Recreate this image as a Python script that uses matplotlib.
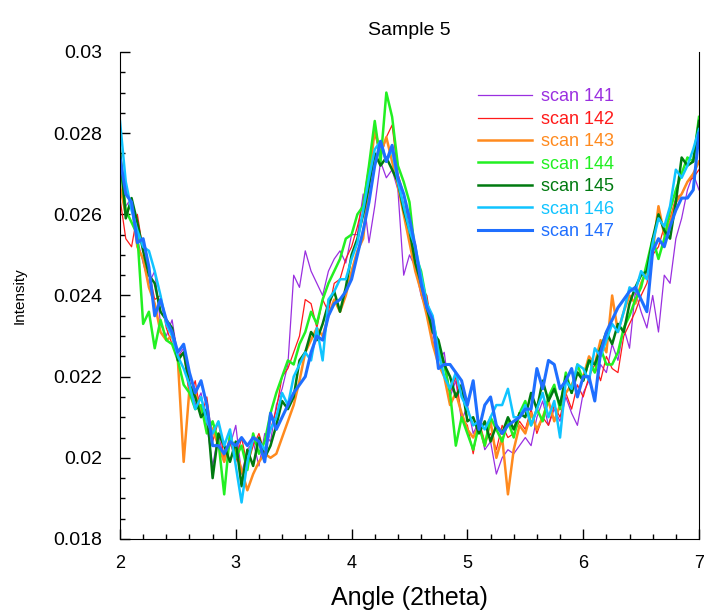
import numpy as np
import matplotlib.pyplot as plt
from matplotlib.ticker import MultipleLocator

plt.rcParams['font.family'] = ['Liberation Sans', 'DejaVu Sans']

# angle grid, 2 -> 7 in 0.05 steps
angle = np.linspace(2.0, 7.0, 101)

# intensities, in units of 1e-3
scale = 1e-3

scan141 = [26.6, 26.2, 26.4, 25.4, 24.8, 24.3, 24.6, 23.3, 23.0, 23.4,
           22.5, 22.7, 21.9, 21.3, 21.6, 20.8, 19.8, 20.6, 19.9, 20.3,
           20.8, 19.6, 20.2, 20.4, 19.8, 20.6, 20.4, 21.3, 21.7, 22.3,
           24.5, 24.2, 25.1, 24.6, 24.3, 24.0, 24.6, 24.9, 25.1, 24.8,
           25.5, 25.5, 26.5, 25.3, 26.2, 27.3, 26.9, 27.1, 26.6, 24.5,
           25.0, 24.7, 24.0, 23.6, 22.9, 22.4, 22.6, 21.5, 21.9, 20.9,
           21.3, 20.6, 20.9, 20.2, 20.4, 19.6, 20.0, 20.2, 20.1, 20.3,
           20.5, 20.3, 21.0, 21.4, 20.8, 21.2, 20.9, 21.5, 21.1, 20.8,
           21.6, 21.9, 21.5, 22.3, 22.1, 22.8, 22.4, 23.2, 22.7, 24.1,
           23.6, 23.2, 24.0, 23.1, 24.5, 24.3, 25.4, 25.9, 26.6, 27.0,
           26.6]
scan142 = [26.4, 25.4, 25.2, 26.0, 25.1, 24.6, 23.9, 24.0, 23.2, 22.8,
           22.5, 22.6, 21.5, 21.9, 21.0, 21.5, 20.4, 20.9, 20.0, 20.4,
           19.9, 20.5, 19.8, 20.3, 20.6, 20.1, 20.7, 21.2, 22.0, 22.2,
           22.6, 23.0, 23.9, 23.8, 23.2, 23.9, 23.6, 24.3, 24.4, 24.9,
           25.2, 25.7, 26.3, 27.2, 28.0, 27.4, 27.9, 28.2, 27.0, 26.5,
           25.6, 25.3, 24.2, 24.0, 23.1, 22.5, 22.3, 21.6, 22.0, 21.0,
           20.8, 20.1, 20.9, 20.4, 20.6, 20.2, 20.8, 20.5, 20.6, 20.9,
           20.7, 21.2, 20.6, 21.0, 20.8, 21.3, 21.0, 21.6, 21.2, 21.8,
           21.5, 22.0, 22.3, 21.9, 22.5, 22.2, 22.1, 23.0, 23.3, 23.6,
           24.0, 24.3, 25.0, 25.2, 25.7, 25.9, 26.4, 26.5, 26.8, 26.9,
           27.1]
scan143 = [26.7, 26.0, 26.3, 25.2, 24.9, 24.2, 23.8, 23.1, 22.9, 23.0,
           22.4, 19.9, 21.7, 21.6, 21.1, 20.9, 20.7, 20.3, 19.9, 20.5,
           20.2, 19.7, 19.2, 19.6, 19.9, 20.1, 20.0, 20.1, 20.5, 20.9,
           21.3, 21.9, 22.6, 22.9, 23.2, 23.0, 23.5, 23.9, 23.6, 24.0,
           24.6, 25.1, 25.4, 26.8, 28.1, 27.5, 27.9, 27.3, 26.7, 26.0,
           25.3, 24.6, 24.1, 23.5, 22.8, 22.3, 22.0, 21.3, 21.6, 21.1,
           20.7, 20.5, 20.8, 20.3, 20.9, 20.0, 20.5, 19.1, 20.2, 20.8,
           20.6, 21.1, 20.7, 21.0, 21.4, 20.9, 21.3, 21.6, 21.8, 22.1,
           22.0, 22.5, 22.3, 22.9, 22.6, 24.0, 23.1, 23.6, 24.0, 23.8,
           24.3, 24.6, 25.1, 26.2, 25.5, 25.8, 26.3, 26.5, 26.8, 27.0,
           27.3]
scan144 = [27.3, 26.1, 25.8, 25.5, 23.3, 23.6, 22.7, 23.4, 22.9, 22.8,
           22.4, 21.8, 21.6, 21.2, 21.3, 20.6, 20.9, 20.4, 19.1, 20.6,
           20.0, 20.3, 19.7, 20.6, 20.1, 20.4, 21.1, 21.6, 22.0, 22.4,
           22.3, 22.8, 23.1, 23.6, 23.3, 23.9, 24.3, 24.6, 24.9, 25.4,
           25.5, 26.0, 26.2, 27.2, 28.3, 27.3, 29.0, 28.4, 27.2, 26.8,
           26.3, 25.0, 24.6, 23.8, 23.4, 22.7, 22.3, 21.6, 20.3, 21.0,
           20.6, 20.2, 20.8, 20.3, 21.0, 20.7, 20.4, 20.9, 20.5, 21.1,
           21.4, 20.8, 21.2, 20.9, 21.5, 21.8, 21.2, 22.1, 21.6, 22.3,
           21.9, 22.4, 22.1, 22.7, 22.3, 22.3, 22.6, 23.2, 23.5, 23.9,
           24.2, 24.8, 25.4, 24.9, 25.4, 26.1, 26.6, 27.0, 27.4, 27.3,
           28.4]
scan145 = [27.6, 25.9, 26.4, 25.8, 25.1, 24.5, 24.3, 23.6, 23.4, 23.2,
           22.4, 22.6, 21.8, 21.5, 21.0, 21.2, 19.5, 20.6, 20.3, 19.9,
           20.4, 19.3, 20.2, 19.8, 20.5, 20.0, 20.3, 20.8, 21.4, 21.2,
           21.5, 22.4, 22.6, 23.1, 22.9, 23.3, 23.8, 24.1, 23.6, 24.2,
           25.0, 25.4, 26.0, 26.7, 27.5, 27.2, 27.4, 27.1, 26.8, 26.1,
           25.6, 24.8, 24.3, 23.7, 23.1, 22.9, 22.3, 22.0, 21.5, 21.8,
           20.9, 21.0, 20.6, 20.9, 20.4, 20.8, 20.6, 21.0, 20.7, 21.1,
           21.0, 21.6, 21.2, 21.9, 21.4, 21.7, 21.3, 22.0, 21.6, 22.1,
           21.9, 22.4, 22.3, 22.7, 23.1, 22.8, 23.3, 23.1, 23.8, 24.2,
           24.5, 24.6, 25.4, 26.0, 25.6, 25.4, 26.3, 27.4, 27.2, 27.3,
           28.3]
scan146 = [28.3, 26.8, 26.1, 25.6, 25.2, 25.1, 24.6, 24.0, 23.3, 23.0,
           22.5, 22.2, 21.8, 21.2, 21.5, 20.9, 20.6, 20.9, 20.3, 20.7,
           19.8, 18.9, 19.9, 20.5, 20.4, 20.2, 20.7, 21.0, 21.6, 21.3,
           22.0, 22.3, 22.6, 22.4, 23.2, 22.4, 23.9, 24.1, 24.4, 24.4,
           24.9, 25.3, 26.1, 26.9, 27.6, 27.8, 27.3, 27.6, 26.8, 26.2,
           25.6, 25.2, 24.5, 23.8, 23.5, 22.6, 22.0, 21.7, 22.1, 21.5,
           21.2, 20.8, 20.9, 20.7, 21.0, 21.3, 21.3, 21.7, 21.0, 21.0,
           21.3, 20.8, 21.2, 21.6, 21.0, 21.4, 20.5, 21.9, 21.7, 22.3,
           22.2, 21.9, 22.7, 22.5, 22.9, 23.3, 23.1, 23.6, 24.2, 24.1,
           24.6, 24.4, 25.3, 25.9, 25.7, 26.2, 27.1, 26.9, 27.2, 27.6,
           28.1]
scan147 = [27.4, 26.5, 26.3, 25.3, 25.4, 24.7, 23.5, 23.9, 23.4, 23.1,
           22.6, 22.8, 22.1, 21.6, 21.9, 21.3, 20.3, 20.3, 20.1, 20.4,
           20.3, 20.5, 20.3, 20.5, 20.4, 19.9, 21.1, 20.7, 21.0, 21.3,
           21.6, 21.8, 22.0, 22.6, 23.0, 22.9, 23.5, 23.8, 23.9, 24.1,
           24.4, 25.0, 25.6, 26.3, 27.2, 27.8, 27.3, 27.7, 26.9, 26.5,
           25.9, 25.2, 24.3, 23.7, 23.4, 22.2, 22.3, 22.3, 22.1, 21.9,
           21.3, 21.9, 20.7, 21.3, 21.5, 20.8, 20.6, 20.8, 20.9, 21.0,
           21.2, 21.2, 22.2, 21.7, 22.4, 22.3, 21.7, 21.9, 22.2, 21.5,
           22.0, 22.0, 21.4, 22.6, 23.1, 23.4, 23.7, 23.9, 24.1, 24.2,
           23.9, 23.6, 25.1, 25.4, 25.2, 25.7, 26.1, 26.4, 26.4, 26.6,
           28.0]

labels = ['scan 141', 'scan 142', 'scan 143', 'scan 144',
          'scan 145', 'scan 146', 'scan 147']
colors = ['#9A2FE0', '#FF1A1A', '#FF8A1E', '#22F022',
          '#007A10', '#10C4FF', '#1F6FFF']
widths = [0.9, 0.9, 1.8, 1.8, 1.8, 1.8, 2.2]
series = [scan141, scan142, scan143, scan144, scan145, scan146, scan147]

fig = plt.figure(figsize=(7.07, 6.10), dpi=100)
ax = fig.add_axes([0.1697, 0.1164, 0.8190, 0.7984])

for y, lab, c, w in zip(series, labels, colors, widths):
    ax.plot(angle, np.array(y) * scale, color=c, lw=w, label=lab)

ax.set_xlim(2, 7)
ax.set_ylim(0.018, 0.03)
ax.xaxis.set_major_locator(MultipleLocator(1))
ax.xaxis.set_minor_locator(MultipleLocator(0.2))
ax.yaxis.set_minor_locator(MultipleLocator(0.0005))
ax.set_yticks([0.018, 0.02, 0.022, 0.024, 0.026, 0.028, 0.03])
ax.set_yticklabels(['0.018', '0.02', '0.022', '0.024', '0.026', '0.028', '0.03'])
ax.tick_params(which='both', direction='in', top=False, right=False)
ax.tick_params(which='major', length=7.5, width=1)
ax.tick_params(which='minor', length=3.5, width=1)
ax.tick_params(axis='y', labelsize=14, pad=13)
ax.tick_params(axis='x', labelsize=13, pad=11.5)
ax.spines['top'].set_visible(False)

ax.set_xlabel('Angle (2theta)', fontsize=18, labelpad=10)
ax.set_ylabel('Intensity', fontsize=11, labelpad=19)
ax.set_title('Sample 5', fontsize=14, pad=12)

leg = ax.legend(loc='upper left', bbox_to_anchor=(0.618, 0.925), frameon=False,
                fontsize=13, labelcolor='linecolor', handlelength=3.0,
                handletextpad=0.5, labelspacing=0.3, borderpad=0,
                borderaxespad=0)

fig.savefig('out.png', dpi=100)
